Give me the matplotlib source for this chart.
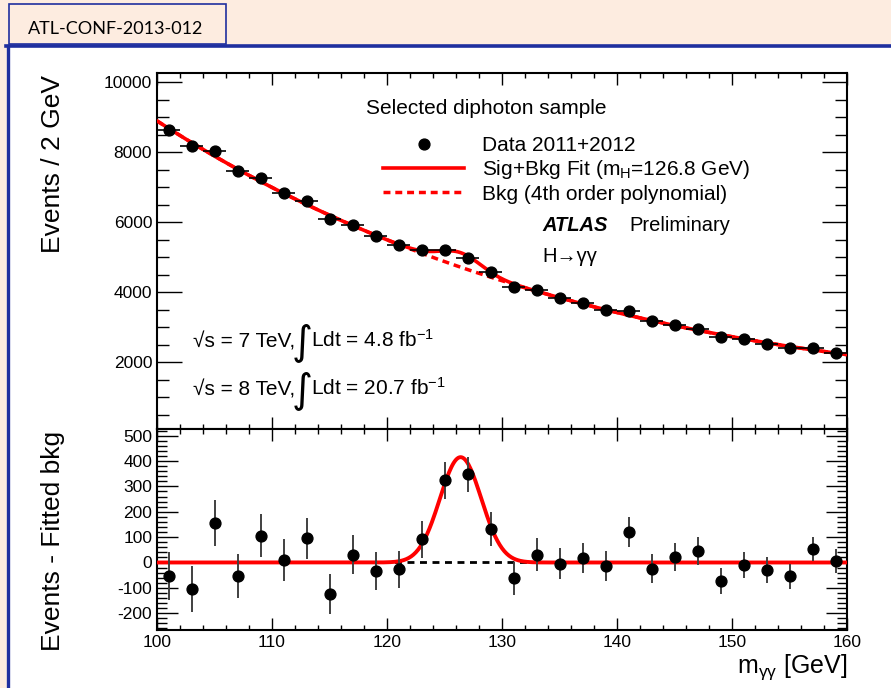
import numpy as np
import matplotlib
matplotlib.use("Agg")
import matplotlib.pyplot as plt
from matplotlib.patches import Rectangle
from matplotlib.lines import Line2D
from matplotlib.ticker import MultipleLocator

plt.rcParams['font.family'] = ['Liberation Sans', 'DejaVu Sans']
plt.rcParams['mathtext.fontset'] = 'custom'
plt.rcParams['mathtext.rm'] = 'Liberation Sans'
plt.rcParams['mathtext.it'] = 'Liberation Sans:italic'
plt.rcParams['mathtext.bf'] = 'Liberation Sans:bold'
plt.rcParams['axes.unicode_minus'] = False

# bin centres (2 GeV bins)
mass = [101, 103, 105, 107, 109, 111, 113, 115, 117, 119,
        121, 123, 125, 127, 129, 131, 133, 135, 137, 139,
        141, 143, 145, 147, 149, 151, 153, 155, 157, 159]
events = [8629, 8171, 8029, 7457, 7257, 6829, 6600, 6086, 5914, 5600,
          5343, 5200, 5200, 4971, 4571, 4143, 4057, 3829, 3686, 3486,
          3457, 3171, 3057, 2943, 2714, 2657, 2514, 2400, 2400, 2257]
residuals = [-53, -103, 155, -54, 105, 8, 95, -125, 31, -32,
             -26, 91, 324, 347, 133, -63, 31, -5, 18, -13,
             120, -24, 21, 46, -74, -11, -29, -55, 53, 6]

# signal shape
sig_peak = 415
sig_mass = 126.4
sig_width = 1.8

mass = np.array(mass)
events = np.array(events)
residuals = np.array(residuals)
err = np.sqrt(events)

# 4th order polynomial background through data - residual
u = (mass - 130.0) / 30.0
coef = np.polyfit(u, events - residuals, 4)
xx = np.linspace(100, 160, 601)
bkg = np.polyval(coef, (xx - 130.0) / 30.0)
sig = sig_peak * np.exp(-0.5 * ((xx - sig_mass) / sig_width) ** 2)

W, H = 891, 688
peach = '#fdece0'
blue = '#1f2f9f'

fig = plt.figure(figsize=(W / 100, H / 100), dpi=100, facecolor=peach)

def fx(x):
    return x / W

def fy(y):
    return 1 - y / H

# page decoration
fig.add_artist(Rectangle((fx(7.5), 0), 1, fy(46), transform=fig.transFigure,
                         facecolor='white', edgecolor='none', zorder=0))
fig.add_artist(Line2D([fx(6), 1], [fy(45.5), fy(45.5)], transform=fig.transFigure,
                      color=blue, lw=2.6, zorder=1))
fig.add_artist(Line2D([fx(7.5), fx(7.5)], [0, fy(45.5)], transform=fig.transFigure,
                      color=blue, lw=2.4, zorder=1))
fig.add_artist(Rectangle((fx(9), fy(44)), fx(225.7) - fx(9), fy(4) - fy(44),
                         transform=fig.transFigure, facecolor=peach,
                         edgecolor=blue, lw=1.2, zorder=1))
fig.text(fx(116), fy(34), 'ATL-CONF-2013-012', family=['Lato', 'DejaVu Sans'],
         fontsize=13, ha='center', va='baseline')

ax1 = fig.add_axes([fx(157), fy(429), fx(847) - fx(157), fy(72.7) - fy(429)])
ax2 = fig.add_axes([fx(157), fy(630), fx(847) - fx(157), fy(429) - fy(630)])

# upper panel
ax1.plot(xx, bkg, color='red', lw=2.5, ls=(0, (2, 1.4)), zorder=2)
ax1.plot(xx, bkg + sig, color='red', lw=2.6, zorder=3)
ax1.errorbar(mass, events, xerr=1, yerr=err, fmt='o', color='black',
             ms=7.8, elinewidth=1.2, capsize=0, zorder=4)
ax1.set_xlim(100, 160)
ax1.set_ylim(86, 10266)
ax1.xaxis.set_major_locator(MultipleLocator(10))
ax1.xaxis.set_minor_locator(MultipleLocator(2))
ax1.yaxis.set_major_locator(MultipleLocator(2000))
ax1.yaxis.set_minor_locator(MultipleLocator(500))
ax1.tick_params(which='both', direction='in', top=True, right=True, width=1,
                labelsize=12.5, pad=3.5)
ax1.tick_params(axis='y', which='major', length=18)
ax1.tick_params(axis='y', which='minor', length=8.6)
ax1.tick_params(axis='x', which='major', length=8.6)
ax1.tick_params(axis='x', which='minor', length=3.6)
ax1.tick_params(axis='x', labelbottom=False)

# lower panel
ax2.axhline(0, color='black', lw=2, ls=(0, (2.5, 2)), zorder=2)
ax2.plot(xx, sig, color='red', lw=2.8, zorder=3)
ax2.errorbar(mass, residuals, yerr=err, fmt='o', color='black', ecolor='#404040',
             ms=7.8, elinewidth=1.4, capsize=0, zorder=4)
ax2.set_xlim(100, 160)
ax2.set_ylim(-266, 526)
ax2.xaxis.set_major_locator(MultipleLocator(10))
ax2.xaxis.set_minor_locator(MultipleLocator(2))
ax2.yaxis.set_major_locator(MultipleLocator(100))
ax2.yaxis.set_minor_locator(MultipleLocator(20))
ax2.tick_params(which='both', direction='in', top=True, right=True, width=1,
                labelsize=12.5, pad=3.5)
ax2.tick_params(axis='y', which='major', length=15)
ax2.tick_params(axis='y', which='minor', length=7.5)
ax2.tick_params(axis='x', which='major', length=8.6)
ax2.tick_params(axis='x', which='minor', length=3.6)

for ax in (ax1, ax2):
    for s in ax.spines.values():
        s.set_linewidth(1.5)

# axis titles
fig.text(fx(53), fy(164), 'Events / 2 GeV', rotation=90, fontsize=19,
         ha='center', va='center')
fig.text(fx(53), fy(541), 'Events - Fitted bkg', rotation=90, fontsize=19,
         ha='center', va='center')
fig.text(fx(847), fy(673), r'm$_{\mathrm{γγ}}$ [GeV]', fontsize=18,
         ha='right', va='baseline')

# legend and labels
fig.text(fx(366), fy(114), 'Selected diphoton sample', fontsize=15, va='baseline')
handles = [Line2D([], [], ls='none', marker='o', color='black', ms=7.8),
           Line2D([], [], color='red', lw=2.6),
           Line2D([], [], color='red', lw=2.5, ls=(0, (2, 1.4)))]
labels = ['Data 2011+2012', r'Sig+Bkg Fit (m$_{\mathrm{H}}$=126.8 GeV)',
          'Bkg (4th order polynomial)']
fig.legend(handles, labels, loc='upper left', bbox_to_anchor=(fx(383), fy(136)),
           frameon=False, fontsize=15, handlelength=3.9, handletextpad=0.85,
           labelspacing=0.16, borderpad=0, borderaxespad=0)

fig.text(fx(542), fy(231), 'ATLAS', fontsize=14.5, weight='bold', style='italic',
         va='baseline')
fig.text(fx(629), fy(231), 'Preliminary', fontsize=14.5, va='baseline')
fig.text(fx(542), fy(262), 'H→γγ', fontsize=14.5, va='baseline')

for yb, txt1, txt2 in [(347, '√s = 7 TeV,', 'Ldt = 4.8 fb$^{\\mathrm{-1}}$'),
                       (395, '√s = 8 TeV,', 'Ldt = 20.7 fb$^{\\mathrm{-1}}$')]:
    fig.text(fx(193), fy(yb), txt1, fontsize=15, va='baseline')
    fig.text(fx(302), fy(yb + 6), '∫', family=['DejaVu Sans'], fontsize=29,
             ha='center', va='baseline')
    fig.text(fx(311), fy(yb), txt2, fontsize=15, va='baseline')

fig.savefig('out.png', dpi=100, facecolor=peach)
